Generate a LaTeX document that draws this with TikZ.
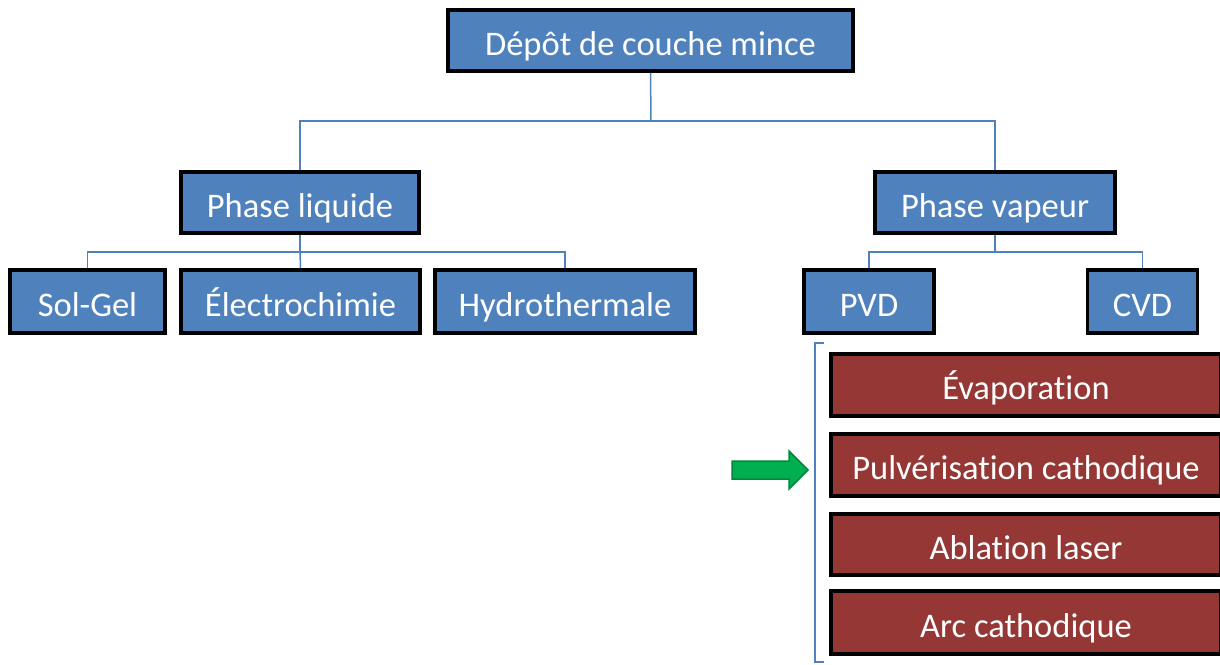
\documentclass[tikz,border=0pt]{standalone}
\usepackage{fontspec}
\setmainfont{Carlito}[Ligatures={NoCommon}]
\definecolor{boxblue}{HTML}{4F81BD}
\definecolor{boxred}{HTML}{953735}
\definecolor{linkblue}{HTML}{4F81BD}
\definecolor{arrgreen}{HTML}{00B050}
\definecolor{arrdark}{HTML}{00863D}
\begin{document}
\begin{tikzpicture}[x=1pt,y=-1pt,
  boxbase/.style={draw=black,line width=3.5pt,text=white,font=\fontsize{34.5}{40}\selectfont,inner sep=0pt,text height=29pt,text depth=0pt},
  bbox/.style={boxbase,fill=boxblue},
  rbox/.style={boxbase,fill=boxred},
  link/.style={draw=linkblue,line width=1.5pt}]
\useasboundingbox (0,0) rectangle (1220,664);
% blue boxes
\node[bbox,minimum width=405,minimum height=61] (root) at (650.5,40.5) {Dépôt de couche mince};
\node[bbox,minimum width=238,minimum height=61] (liq) at (300,202.5) {Phase liquide};
\node[bbox,minimum width=240,minimum height=61] (vap) at (995,202.5) {Phase vapeur};
\node[bbox,minimum width=155,minimum height=63] (sol) at (87.5,301.5) {Sol-Gel};
\node[bbox,minimum width=239,minimum height=63] (ele) at (300.5,301.5) {Électrochimie};
\node[bbox,minimum width=260,minimum height=63] (hyd) at (565,301.5) {Hydrothermale};
\node[bbox,minimum width=130,minimum height=63] (pvd) at (869,301.5) {PVD};
\node[bbox,minimum width=110,minimum height=63] (cvd) at (1142.5,301.5) {CVD};
% red boxes
\node[rbox,minimum width=390,minimum height=62] (eva) at (1026,385) {Évaporation};
\node[rbox,minimum width=390,minimum height=62] (pul) at (1026,465) {Pulvérisation cathodique};
\node[rbox,minimum width=390,minimum height=61] (abl) at (1026,544.5) {Ablation laser};
\node[rbox,minimum width=390,minimum height=63] (arc) at (1026,622.5) {Arc cathodique};
% connectors
\coordinate (j1) at (651,121);
\coordinate (j2) at (300,252);
\coordinate (j3) at (995,252);
\draw[link] (root.south) -- (j1);
\draw[link] (j1) -| (liq.north);
\draw[link] (j1) -| (vap.north);
\draw[link] (liq.south) -- (j2);
\draw[link] (j2) -| (sol.north);
\draw[link] (j2) -- (ele.north);
\draw[link] (j2) -| (hyd.north);
\draw[link] (vap.south) -- (j3);
\draw[link] (j3) -| (pvd.north);
\draw[link] (j3) -| (cvd.north);
% bracket
\coordinate (bt) at (824,343);
\coordinate (bb) at (824,662);
\draw[link] (bt) -- (815,343) -- (815,662) -- (bb);
% green arrow
\draw[fill=arrgreen,draw=arrdark,line width=1.5pt]
  (732,461) -- (789,461) -- (789,451) -- (808,470) -- (789,489) -- (789,479) -- (732,479) -- cycle;
\end{tikzpicture}
\end{document}
